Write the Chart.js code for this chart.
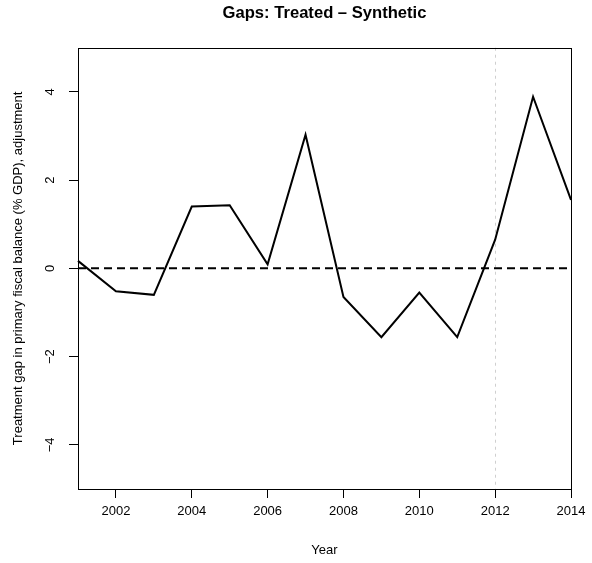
<!DOCTYPE html>
<html>
<head>
<meta charset="utf-8">
<script src="https://cdn.jsdelivr.net/npm/chart.js@4.4.0/dist/chart.umd.min.js"></script>
<style>
  html, body { margin: 0; padding: 0; background: #fff; }
  #wrap { width: 592px; height: 563px; }
</style>
</head>
<body>
<div id="wrap"><canvas id="myChart" width="592" height="563"></canvas></div>
<script>
// data
var years = [2001, 2002, 2003, 2004, 2005, 2006, 2007, 2008, 2009, 2010, 2011, 2012, 2013, 2014];
var gaps = [0.17, -0.52, -0.6, 1.4, 1.43, 0.09, 3.03, -0.65, -1.56, -0.55, -1.56, 0.65, 3.89, 1.55];
var xTicks = [2002, 2004, 2006, 2008, 2010, 2012, 2014];
var yTicks = [-4, -2, 0, 2, 4];
var zeroLine = 0;
var treatYear = 2012;

var fontFam = '"Liberation Sans", Arial, Helvetica, sans-serif';

function fmt(v) {
  return v < 0 ? '\u2212' + Math.abs(v) : String(v);
}

// box, reference lines and rotated y labels (R style)
const rStyle = {
  id: 'rStyle',
  beforeDatasetsDraw(chart) {
    const ctx = chart.ctx;
    const a = chart.chartArea;
    const x = chart.scales.x, y = chart.scales.y;
    ctx.save();
    // dotted vertical line at treatment year
    const vx = Math.round(x.getPixelForValue(treatYear)) + 0.5;
    ctx.strokeStyle = '#cfcfcf';
    ctx.lineWidth = 1;
    ctx.setLineDash([3, 4]);
    ctx.beginPath();
    ctx.moveTo(vx, a.top);
    ctx.lineTo(vx, a.bottom);
    ctx.stroke();
    // dashed zero line
    const zy = y.getPixelForValue(zeroLine);
    ctx.strokeStyle = '#000';
    ctx.lineWidth = 2;
    ctx.setLineDash([8, 5]);
    ctx.beginPath();
    ctx.moveTo(a.left, zy);
    ctx.lineTo(a.right, zy);
    ctx.stroke();
    ctx.restore();
  },
  afterDraw(chart) {
    const ctx = chart.ctx;
    const a = chart.chartArea;
    const y = chart.scales.y;
    ctx.save();
    ctx.strokeStyle = '#000';
    ctx.lineWidth = 1;
    ctx.setLineDash([]);
    ctx.strokeRect(Math.round(a.left) + 0.5, Math.round(a.top) + 0.5,
      Math.round(a.right - a.left), Math.round(a.bottom - a.top));
    ctx.fillStyle = '#000';
    ctx.font = '13px ' + fontFam;
    ctx.textAlign = 'center';
    ctx.textBaseline = 'middle';
    yTicks.forEach(function (v) {
      const py = y.getPixelForValue(v);
      ctx.save();
      ctx.translate(50, py);
      ctx.rotate(-Math.PI / 2);
      ctx.fillText(fmt(v), 0, 0);
      ctx.restore();
    });
    ctx.restore();
  }
};

const data = {
  datasets: [
    {
      label: 'gap',
      data: years.map((yr, i) => ({ x: yr, y: gaps[i] })),
      borderColor: '#000',
      backgroundColor: '#000',
      borderWidth: 2,
      pointRadius: 0,
      tension: 0,
      clip: false
    }
  ]
};

const config = {
  type: 'line',
  data,
  options: {
    responsive: false,
    animation: false,
    layout: { padding: { left: 0, right: 21, top: 0, bottom: 0 } },
    plugins: {
      legend: { display: false },
      tooltip: { enabled: false },
      title: {
        display: true,
        fullSize: false,
        text: 'Gaps: Treated \u2013 Synthetic',
        color: '#000',
        font: { family: fontFam, size: 16.6, weight: 'bold' },
        padding: { top: 3.3, bottom: 24.5 }
      }
    },
    scales: {
      x: {
        type: 'linear',
        min: 2001,
        max: 2014,
        afterBuildTicks: function (s) { s.ticks = xTicks.map(v => ({ value: v })); },
        afterFit: function (s) { s.height = 74; },
        grid: { drawOnChartArea: false, drawTicks: true, tickLength: 9, color: '#000' },
        border: { display: false },
        ticks: {
          color: '#000',
          padding: 6,
          maxRotation: 0,
          autoSkip: false,
          font: { family: fontFam, size: 13 },
          callback: v => String(v)
        },
        title: {
          display: true,
          text: 'Year',
          color: '#000',
          font: { family: fontFam, size: 13 },
          padding: { top: 0, bottom: 5 }
        }
      },
      y: {
        type: 'linear',
        min: -5,
        max: 5,
        afterBuildTicks: function (s) { s.ticks = yTicks.map(v => ({ value: v })); },
        afterFit: function (s) { s.width = 78; },
        grid: { drawOnChartArea: false, drawTicks: true, tickLength: 9, color: '#000' },
        border: { display: false },
        ticks: { display: false },
        title: {
          display: true,
          text: 'Treatment gap in primary fiscal balance (% GDP), adjustment',
          color: '#000',
          font: { family: fontFam, size: 13 },
          padding: { top: 11, bottom: 0 }
        }
      }
    }
  },
  plugins: [rStyle]
};

document.addEventListener('DOMContentLoaded', (event) => {
  myChart = new Chart(document.getElementById('myChart'), config);
});
</script>
</body>
</html>
